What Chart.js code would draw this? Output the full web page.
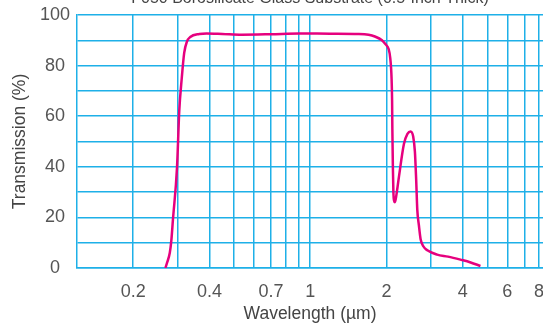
<!DOCTYPE html>
<html>
<head>
<meta charset="utf-8">
<script src="https://cdn.jsdelivr.net/npm/chart.js@4"></script>
<style>
  html, body { margin: 0; padding: 0; background: #fff; }
  #wrap { position: relative; width: 543px; height: 326px; overflow: hidden; }
  #inner { position: absolute; left: 0; top: -14px; width: 543px; height: 340px; }
</style>
</head>
<body>
<div id="wrap"><div id="inner"><canvas id="c"></canvas></div></div>
<script>
const titleText = 'F050 Borosilicate Glass Substrate (0.5-Inch Thick)';
const xTitle = 'Wavelength (µm)';
const yTitle = 'Transmission (%)';

const wavelength = [0.268, 0.272, 0.279, 0.283, 0.287, 0.298, 0.304, 0.311, 0.318, 0.326, 0.336, 0.365, 0.39, 0.45, 0.536, 0.7, 0.903, 1.2, 1.555, 1.70, 1.80, 1.92, 1.98, 2.04, 2.07, 2.095, 2.105, 2.11, 2.12, 2.13, 2.145, 2.16, 2.19, 2.24, 2.344, 2.42, 2.49, 2.55, 2.59, 2.62, 2.647, 2.685, 2.727, 2.8, 2.9, 3.17, 3.5, 3.92, 4.3, 4.7];
const transmission = [0, 2, 6, 11, 19, 40, 62, 75, 85, 89.5, 91.3, 92.5, 92.7, 92.5, 92.2, 92.4, 92.7, 92.6, 92.5, 92.2, 91.5, 90, 88.5, 86.5, 83, 75, 66, 55, 40, 30, 26.5, 26, 29, 36, 49, 53, 54, 52, 46, 35, 23, 17, 11.5, 8.5, 7, 5.3, 4.5, 3.3, 2.2, 0.8];

const xGridValues = [0.2, 0.3, 0.4, 0.5, 0.6, 0.7, 0.8, 0.9, 1, 2, 3, 4, 5, 6, 7, 8];
const xTickLabels = [0.2, 0.4, 0.7, 1, 2, 4, 6, 8];
const yTickLabels = [0, 20, 40, 60, 80, 100];

const gridColor = '#1eb0e8';
const tickFont = { family: "'Liberation Sans', Arial, sans-serif", size: 18 };
const axisTitleFont = { family: "'Liberation Sans', Arial, sans-serif", size: 17.5, weight: 'normal' };
const chartTitleFont = { family: "'Liberation Sans', Arial, sans-serif", size: 16, weight: 'normal' };

new Chart(document.getElementById('c'), {
  type: 'line',
  data: {
    datasets: [{
      data: wavelength.map((w, i) => ({ x: w, y: transmission[i] })),
      borderColor: '#e6007e',
      borderWidth: 2.5,
      pointRadius: 0,
      cubicInterpolationMode: 'monotone',
      fill: false
    }]
  },
  options: {
    responsive: true,
    maintainAspectRatio: false,
    animation: false,
    layout: { padding: 0 },
    plugins: {
      legend: { display: false },
      tooltip: { enabled: false },
      title: {
        display: true,
        text: titleText,
        fullSize: false,
        color: '#444',
        font: chartTitleFont,
        padding: { top: 2.8, bottom: 7 }
      }
    },
    scales: {
      x: {
        type: 'logarithmic',
        min: 0.12,
        max: 8.3,
        afterBuildTicks: (s) => { s.ticks = xGridValues.map(v => ({ value: v })); },
        afterFit: (s) => { s.height = 58; s.paddingLeft = 0; s.paddingRight = 0; },
        ticks: {
          autoSkip: false,
          maxRotation: 0,
          minRotation: 0,
          padding: 0,
          color: '#555',
          font: tickFont,
          callback: (v) => xTickLabels.includes(v) ? String(v) : ''
        },
        grid: { color: gridColor, lineWidth: 1.5, drawTicks: true, tickLength: 13, tickColor: 'rgba(0,0,0,0)' },
        border: { color: gridColor, width: 1.5 },
        title: { display: true, text: xTitle, color: '#444', font: axisTitleFont, padding: { top: 0, bottom: 1.5 } }
      },
      y: {
        min: 0,
        max: 100,
        afterBuildTicks: (s) => { const t = []; for (let v = 0; v <= 100; v += 10) t.push({ value: v }); s.ticks = t; },
        afterFit: (s) => { s.width = 77; },
        ticks: {
          padding: 7,
          crossAlign: 'center',
          color: '#555',
          font: tickFont,
          callback: (v) => yTickLabels.includes(v) ? String(v) : ''
        },
        grid: { color: gridColor, lineWidth: 1.5, drawTicks: false },
        border: { color: gridColor, width: 1.5 },
        title: { display: true, text: yTitle, color: '#444', font: axisTitleFont, padding: { top: 9.5, bottom: 0 } }
      }
    }
  }
});
</script>
</body>
</html>
